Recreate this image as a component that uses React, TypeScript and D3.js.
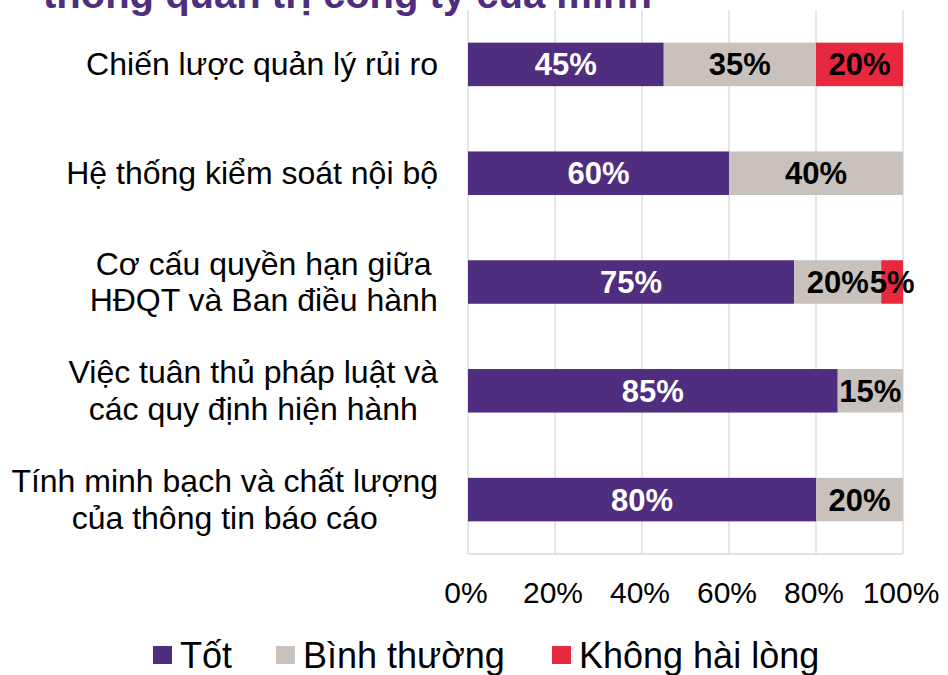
import React from "react";
import * as d3 from "d3";

const categories = [
  "Chiến lược quản lý rủi ro",
  "Hệ thống kiểm soát nội bộ",
  "Cơ cấu quyền hạn giữa\nHĐQT và Ban điều hành",
  "Việc tuân thủ pháp luật và\ncác quy định hiện hành",
  "Tính minh bạch và chất lượng\ncủa thông tin báo cáo",
];
const seriesNames = ["Tốt", "Bình thường", "Không hài lòng"];
const tot = [45, 60, 75, 85, 80];
const binhThuong = [35, 40, 20, 15, 20];
const khongHaiLong = [20, 0, 5, 0, 0];
const tickValues = [0, 20, 40, 60, 80, 100];
const titleText = "thống quản trị công ty của mình";

const colors = ["#4F2D7F", "#C9C2BC", "#E8283F"];
const labelColors = ["#ffffff", "#000000", "#000000"];
const FONT = "'Liberation Sans', Arial, sans-serif";
const CAT_FONT = 32;

function measure(text: string, size: number): number {
  const canvas = document.createElement("canvas");
  const ctx = canvas.getContext("2d");
  if (!ctx) return text.length * size * 0.5;
  ctx.font = `${size}px 'Liberation Sans', Arial, sans-serif`;
  return ctx.measureText(text).width;
}

export default function App() {
  const W = 948;
  const H = 675;
  const x = d3.scaleLinear().domain([0, 100]).range([468, 903]);
  const y = d3
    .scaleBand<string>()
    .domain(categories)
    .range([10, 554])
    .paddingInner(0.6)
    .paddingOuter(0.3);

  const series = [tot, binhThuong, khongHaiLong];
  const rows = categories.map((c, i) => {
    const vals: Record<string, number | string> = { cat: c };
    seriesNames.forEach((s, k) => (vals[s] = series[k][i]));
    return vals;
  });
  const stack = d3.stack<any>().keys(seriesNames)(rows as any);

  const legendX = [153, 276, 552];
  const lineH = 36.7;
  const labelRight = 438;

  return (
    <svg
      width={W}
      height={H}
      style={{ position: "absolute", left: 0, top: 0, background: "#fff" }}
      fontFamily={FONT}
    >
      <text x={43} y={8} fontSize={40} fontWeight="bold" fill="#4F2D7F">
        {titleText}
      </text>

      {tickValues.map((t) => (
        <line
          key={"g" + t}
          x1={x(t)}
          x2={x(t)}
          y1={10}
          y2={554}
          stroke="#D9D9D9"
          strokeWidth={1.3}
        />
      ))}
      <line x1={x(0)} x2={x(100)} y1={554} y2={554} stroke="#D9D9D9" strokeWidth={1.3} />

      {stack.map((layer, k) =>
        layer.map((d, i) => {
          const cat = categories[i];
          const x0 = x(d[0]);
          const x1 = x(d[1]);
          const v = d[1] - d[0];
          if (v <= 0) return null;
          const yc = (y(cat) as number) + y.bandwidth() / 2;
          return (
            <g key={k + "-" + i}>
              <rect
                x={x0}
                y={y(cat)}
                width={x1 - x0}
                height={y.bandwidth()}
                fill={colors[k]}
              />
              <text
                x={(x0 + x1) / 2}
                y={yc + 11}
                textAnchor="middle"
                fontSize={31}
                fontWeight="bold"
                fill={labelColors[k]}
              >
                {v + "%"}
              </text>
            </g>
          );
        })
      )}

      {categories.map((c) => {
        const lines = c.split("\n");
        const maxW = Math.max(...lines.map((l) => measure(l, CAT_FONT)));
        const cx = labelRight - maxW / 2;
        const yc = (y(c) as number) + y.bandwidth() / 2;
        const start = yc - ((lines.length - 1) * lineH) / 2 + 11;
        return (
          <text key={c} textAnchor="middle" fontSize={CAT_FONT} fill="#000">
            {lines.map((l, j) => (
              <tspan key={j} x={cx} y={start + j * lineH}>
                {l}
              </tspan>
            ))}
          </text>
        );
      })}

      {tickValues.map((t) => (
        <text
          key={"t" + t}
          x={x(t) - 2}
          y={603}
          textAnchor="middle"
          fontSize={30}
          fill="#000"
        >
          {t + "%"}
        </text>
      ))}

      {seriesNames.map((s, k) => (
        <g key={s}>
          <rect x={legendX[k]} y={646} width={19} height={18} fill={colors[k]} />
          <text x={legendX[k] + 27} y={668} fontSize={36} fill="#000">
            {s}
          </text>
        </g>
      ))}
    </svg>
  );
}
